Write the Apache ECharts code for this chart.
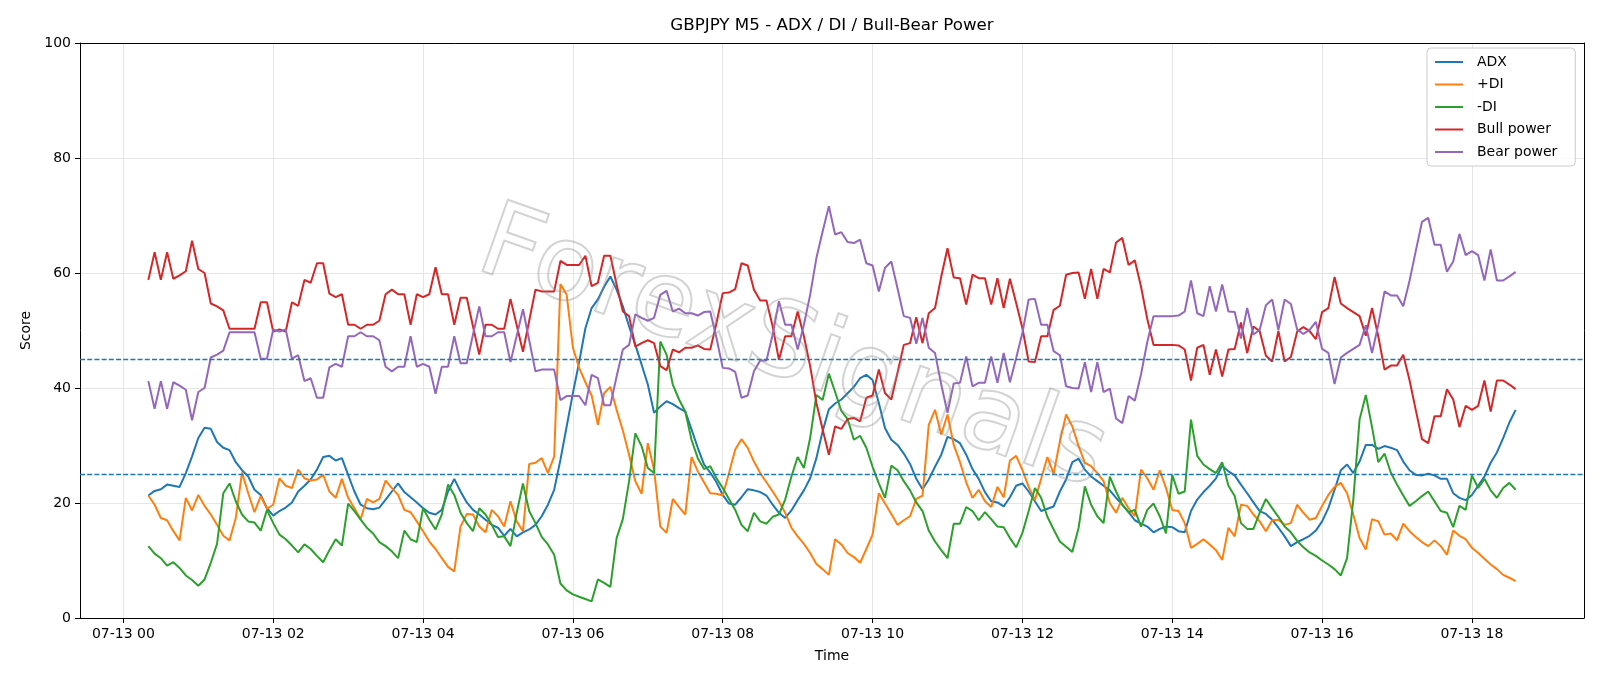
<!DOCTYPE html>
<html>
<head>
<meta charset="utf-8">
<script src="https://cdn.jsdelivr.net/npm/echarts@6/dist/echarts.min.js"></script>
<style>
html,body{margin:0;padding:0;background:#ffffff;}
#chart{width:1600px;height:686px;}
</style>
</head>
<body>
<div id="chart"></div>
<script>
// ---- data ----
const tickLabels = ['07-13 00','07-13 02','07-13 04','07-13 06','07-13 08','07-13 10','07-13 12','07-13 14','07-13 16','07-13 18'];
const tickMinutes = [0,120,240,360,480,600,720,840,960,1080];
const startMinute = 20;   // first bar 07-13 00:20
const stepMinutes = 5;    // M5
const thresholds = [45, 25];

const adx = [21.3,22.1,22.4,23.2,23.0,22.8,25.2,28.1,31.3,33.1,
32.9,30.6,29.6,29.2,27.1,25.7,24.6,22.3,21.4,19.1,
17.8,18.6,19.2,20.1,22.0,23.0,24.1,25.8,28.0,28.2,
27.4,27.8,24.9,22.0,19.7,19.1,18.9,19.2,20.6,22.0,
23.4,21.9,21.0,20.1,19.1,18.3,18.0,18.8,22.0,24.2,
22.0,20.1,18.8,18.0,17.1,16.2,15.7,14.3,15.5,14.2,
14.9,15.4,16.2,17.7,19.7,22.3,27.5,33.3,39.1,44.5,
50.4,53.9,55.4,57.6,59.4,57.1,54.2,50.7,47.5,44.1,
40.6,35.7,36.8,37.7,37.2,36.5,35.9,32.8,29.6,26.7,
25.3,23.6,21.4,19.9,19.7,21.0,22.4,22.2,21.9,21.3,
19.7,18.3,17.4,18.7,20.5,22.2,24.3,27.8,32.5,36.3,
37.3,38.0,39.1,40.2,41.7,42.3,41.4,37.4,33.0,31.0,
30.1,28.6,26.8,24.2,22.4,24.1,26.3,28.4,31.5,31.1,
30.4,28.4,25.9,24.2,21.9,20.3,20.1,19.4,21.0,23.0,
23.4,22.0,20.3,18.6,19.0,19.4,22.0,24.1,27.1,27.7,
25.8,24.6,23.8,23.0,22.2,20.9,19.7,18.4,17.0,16.4,
15.9,14.9,15.5,15.9,15.8,15.1,14.9,18.6,20.6,21.9,
23.0,24.3,26.5,25.5,24.8,23.2,21.7,20.1,18.6,18.1,
17.1,15.7,14.2,12.5,13.2,13.7,14.3,15.2,16.8,19.1,
22.3,25.7,26.7,25.2,27.2,30.1,30.1,29.4,29.9,29.6,
29.2,27.2,25.7,24.9,24.8,25.1,24.8,24.2,24.2,21.7,
20.9,20.5,21.4,23.0,24.6,27.0,28.8,31.3,34.0,36.2];

const plusDI = [21.3,19.7,17.4,17.0,15.1,13.5,20.9,18.7,21.4,19.5,
18.0,16.2,14.3,13.5,17.4,25.3,21.7,18.4,21.2,19.0,
19.7,24.3,23.0,22.6,25.8,24.3,23.9,24.1,24.9,22.0,
20.9,24.2,20.9,19.1,17.2,20.7,20.1,20.7,23.9,22.6,
21.4,18.8,18.4,16.8,15.1,13.3,12.0,10.4,8.9,8.1,
15.9,18.1,18.0,15.9,14.9,18.8,17.7,15.9,20.3,16.8,
15.1,26.8,27.0,27.8,25.2,28.1,58.1,56.2,47.0,43.5,
41.0,38.7,33.6,39.1,40.2,36.2,32.6,28.4,23.8,21.6,
30.4,25.8,15.9,14.8,20.7,19.3,18.0,28.0,25.5,23.6,
21.7,21.6,21.3,25.2,29.3,31.1,29.6,27.2,25.2,23.6,
22.0,20.3,18.3,15.7,14.2,12.9,11.3,9.4,8.5,7.5,
13.7,12.8,11.3,10.6,9.6,12.0,14.5,21.7,19.9,18.1,
16.2,17.0,17.7,20.7,21.3,33.6,36.2,31.9,35.4,30.1,
27.1,23.6,20.9,22.3,20.3,19.3,22.8,21.0,27.4,28.2,
25.7,22.8,20.5,24.2,28.0,25.1,30.7,35.4,33.3,29.9,
27.0,26.4,25.2,23.8,20.0,18.3,20.9,19.1,17.7,25.8,
24.3,22.3,25.7,22.6,18.8,18.6,16.5,12.2,12.9,13.7,
12.8,11.8,10.1,15.7,14.2,19.7,19.5,18.0,16.8,15.1,
17.0,17.1,16.2,16.5,19.7,18.3,17.1,17.4,19.5,21.4,
22.8,23.5,21.7,18.0,13.9,11.9,17.2,16.8,14.5,14.7,
13.5,16.4,15.1,14.1,13.2,12.5,13.5,12.5,11.0,15.2,
14.3,13.7,12.2,11.3,10.3,9.3,8.5,7.5,7.0,6.4];

const minusDI = [12.5,11.2,10.4,9.1,9.7,8.7,7.4,6.6,5.6,6.7,
9.6,12.9,21.7,23.4,20.3,18.0,16.8,16.6,15.2,18.8,
16.5,14.5,13.7,12.6,11.4,12.8,12.0,10.8,9.7,11.8,
13.7,12.6,19.9,18.6,17.1,15.7,14.7,13.2,12.5,11.6,
10.4,15.2,13.7,13.2,19.1,17.1,15.4,18.0,23.2,21.4,
18.3,16.5,15.1,19.1,18.0,16.2,14.1,14.2,12.5,18.3,
23.4,18.6,16.5,14.1,12.8,11.0,6.0,4.8,4.1,3.7,
3.3,2.9,6.7,6.1,5.4,13.9,17.2,23.8,32.1,29.9,
26.1,25.2,48.1,45.8,40.6,38.0,35.9,31.0,27.8,25.9,
26.4,24.3,22.6,20.7,18.8,16.2,15.1,18.3,16.8,16.4,
17.6,18.0,20.6,24.6,28.0,26.1,31.3,38.8,37.9,42.5,
39.3,36.0,34.6,31.0,31.7,29.6,26.3,23.4,20.9,26.5,
25.7,23.8,22.2,20.1,18.6,15.2,13.3,11.8,10.4,16.4,
16.4,19.3,18.6,17.0,18.4,17.2,15.9,15.8,13.9,12.3,
14.8,18.6,22.6,20.9,17.6,15.4,13.3,12.4,11.5,15.7,
22.9,19.7,17.7,16.5,24.6,22.0,19.7,18.4,18.8,15.9,
18.8,19.9,17.7,14.7,24.9,21.6,22.0,34.5,28.2,26.7,
25.9,25.2,27.1,23.0,21.2,16.5,15.5,15.5,18.3,20.7,
19.1,17.6,15.9,14.9,13.4,12.3,11.4,10.8,10.0,9.3,
8.5,7.4,10.4,20.6,34.5,38.8,33.2,27.1,28.6,25.3,
23.2,21.3,19.5,20.3,21.2,22.0,20.3,18.6,18.3,15.8,
19.5,18.8,24.8,22.6,24.2,22.2,20.9,22.6,23.5,22.3];

const bullPower = [58.8,63.6,58.8,63.6,59.0,59.6,60.3,65.6,60.7,60.0,
54.7,54.2,53.5,50.3,50.3,50.3,50.3,50.3,54.9,54.9,
49.8,50.2,49.8,54.9,54.3,58.8,58.3,61.7,61.7,56.4,
55.8,56.3,51.0,51.0,50.3,51.0,51.0,51.7,56.3,57.1,
56.3,56.3,51.0,56.3,55.8,56.3,61.0,56.3,56.3,51.0,
55.7,55.7,50.7,45.8,51.0,51.0,50.3,50.3,55.5,50.9,
46.3,51.7,57.1,56.8,56.8,56.8,62.1,61.4,61.4,61.4,
63.0,57.7,58.3,63.0,63.0,58.0,53.3,52.5,47.2,47.8,
48.3,47.8,43.8,43.1,46.7,46.2,47.0,47.0,47.4,46.8,
46.7,51.3,56.5,56.6,57.2,61.7,61.3,57.1,55.2,55.2,
50.7,44.9,49.0,49.0,53.3,49.0,43.8,37.4,32.8,28.4,
33.3,32.9,34.6,34.8,34.2,38.3,38.7,43.2,39.1,38.0,
42.7,47.5,47.8,52.3,47.8,53.0,53.9,59.4,64.3,59.2,
59.1,54.5,59.7,59.1,59.1,54.5,59.1,53.9,59.0,54.8,
50.4,44.6,44.5,49.0,49.0,53.6,54.3,59.7,60.0,60.1,
55.5,60.7,55.5,60.7,60.1,65.3,66.1,61.4,62.2,57.6,
52.0,47.5,47.5,47.5,47.5,47.4,46.7,41.3,47.0,47.5,
42.3,46.7,42.0,46.7,46.8,51.4,46.1,50.7,49.9,45.6,
44.6,49.9,44.6,45.4,49.8,50.6,49.9,48.5,53.2,53.9,
59.3,54.7,53.9,53.2,52.5,49.1,53.9,49.0,43.2,43.9,
43.9,45.8,41.4,36.2,31.1,30.4,35.1,35.1,39.8,38.0,
33.2,36.9,36.2,36.9,41.3,35.9,41.3,41.3,40.6,39.8];

const bearPower = [41.2,36.4,41.2,36.4,41.0,40.4,39.7,34.4,39.3,40.0,
45.3,45.8,46.5,49.7,49.7,49.7,49.7,49.7,45.1,45.1,
50.2,49.8,50.2,45.1,45.7,41.2,41.7,38.3,38.3,43.6,
44.2,43.7,49.0,49.0,49.7,49.0,49.0,48.3,43.7,42.9,
43.7,43.7,49.0,43.7,44.2,43.7,39.0,43.7,43.7,49.0,
44.3,44.3,49.3,54.2,49.0,49.0,49.7,49.7,44.5,49.1,
53.7,48.3,42.9,43.2,43.2,43.2,37.9,38.6,38.6,38.6,
37.0,42.3,41.7,37.0,37.0,42.0,46.7,47.5,52.8,52.2,
51.7,52.2,56.2,56.9,53.3,53.8,53.0,53.0,52.6,53.2,
53.3,48.7,43.5,43.4,42.8,38.3,38.7,42.9,44.8,44.8,
49.3,55.1,51.0,51.0,46.7,51.0,56.2,62.6,67.2,71.6,
66.7,67.1,65.4,65.2,65.8,61.7,61.3,56.8,60.9,62.0,
57.3,52.5,52.2,47.7,52.2,47.0,46.1,40.6,35.7,40.8,
40.9,45.5,40.3,40.9,40.9,45.5,40.9,46.1,41.0,45.2,
49.6,55.4,55.5,51.0,51.0,46.4,45.7,40.3,40.0,39.9,
44.5,39.3,44.5,39.3,39.9,34.7,33.9,38.6,37.8,42.4,
48.0,52.5,52.5,52.5,52.5,52.6,53.3,58.7,53.0,52.5,
57.7,53.3,58.0,53.3,53.2,48.6,53.9,49.3,50.1,54.4,
55.4,50.1,55.4,54.6,50.2,49.4,50.1,51.5,46.8,46.1,
40.7,45.3,46.1,46.8,47.5,50.9,46.1,51.0,56.8,56.1,
56.1,54.2,58.6,63.8,68.9,69.6,64.9,64.9,60.2,62.0,
66.8,63.1,63.8,63.1,58.7,64.1,58.7,58.7,59.4,60.2];

// ---- build ----
const times = adx.map((_, i) => startMinute + i * stepMinutes);
const pair = arr => arr.map((v, i) => [times[i], v]);
const FONT = '"DejaVu Sans", "Liberation Sans", sans-serif';
const GRID_COLOR = '#e6e6e6';

const chart = echarts.init(document.getElementById('chart'), null, {renderer: 'canvas'});

function lineSeries(name, data, color) {
  return {
    name: name, type: 'line', data: pair(data), xAxisIndex: 0, yAxisIndex: 0,
    symbol: 'none', showSymbol: false, smooth: false, z: 3,
    lineStyle: {color: color, width: 2}, itemStyle: {color: color},
    emphasis: {disabled: true}, animation: false
  };
}

const series = [
  {
    name: '__grid', type: 'line', data: [], xAxisIndex: 0, yAxisIndex: 0, z: 0, silent: true,
    markLine: {
      silent: true, symbol: ['none', 'none'], label: {show: false}, animation: false, z: 0,
      lineStyle: {color: GRID_COLOR, width: 1, type: 'solid'},
      emphasis: {disabled: true},
      data: tickMinutes.map(m => ({xAxis: m}))
    }
  },
  lineSeries('ADX', adx, '#1f77b4'),
  lineSeries('+DI', plusDI, '#ff7f0e'),
  lineSeries('-DI', minusDI, '#2ca02c'),
  lineSeries('Bull power', bullPower, '#d62728'),
  lineSeries('Bear power', bearPower, '#9467bd')
];
series[5].markLine = {
  silent: true, symbol: ['none', 'none'], label: {show: false}, animation: false,
  lineStyle: {color: '#1f77b4', width: 1.4, type: [5, 2.2]},
  emphasis: {disabled: true},
  data: thresholds.map(t => ({yAxis: t}))
};

const option = {
  animation: false,
  backgroundColor: '#ffffff',
  title: {
    text: 'GBPJPY M5 - ADX / DI / Bull-Bear Power',
    left: 832, top: 17, textAlign: 'center', padding: 0,
    textStyle: {fontFamily: FONT, fontSize: 16.7, fontWeight: 'normal', color: '#000', lineHeight: 18}
  },
  legend: {
    data: ['ADX', '+DI', '-DI', 'Bull power', 'Bear power'],
    orient: 'vertical', left: 1427, top: 48,
    itemWidth: 28, itemHeight: 14, itemGap: 8.5,
    padding: [7, 18, 7, 7],
    itemStyle: {opacity: 0, borderWidth: 0},
    lineStyle: {width: 2},
    backgroundColor: 'rgba(255,255,255,0.85)', borderColor: '#cccccc', borderWidth: 1, borderRadius: 4,
    textStyle: {fontFamily: FONT, fontSize: 14, color: '#000', padding: [0, 0, 0, 9]},
    selectedMode: false
  },
  grid: {left: 80, top: 43, width: 1504, height: 575, containLabel: false},
  xAxis: [
    {
      type: 'value', min: -34.75, max: 1169.75, position: 'bottom',
      name: 'Time', nameLocation: 'middle', nameGap: 31,
      nameTextStyle: {fontFamily: FONT, fontSize: 14, color: '#000'},
      axisLine: {show: true, onZero: false, lineStyle: {color: '#000', width: 1}},
      axisTick: {show: true, inside: false, length: 5, customValues: tickMinutes, lineStyle: {color: '#000', width: 1}},
      axisLabel: {
        show: true, margin: 9, customValues: tickMinutes,
        fontFamily: FONT, fontSize: 14, color: '#000',
        formatter: v => { const k = tickMinutes.indexOf(v); return k >= 0 ? tickLabels[k] : ''; }
      },
      splitLine: {show: false}
    },
    {
      type: 'value', min: 0, max: 1, position: 'top', gridIndex: 0,
      axisLine: {show: true, onZero: false, lineStyle: {color: '#000', width: 1}},
      axisTick: {show: false}, axisLabel: {show: false}, splitLine: {show: false}
    }
  ],
  yAxis: [
    {
      type: 'value', min: 0, max: 100, interval: 20, position: 'left',
      name: 'Score', nameLocation: 'middle', nameGap: 47, nameRotate: 90,
      nameTextStyle: {fontFamily: FONT, fontSize: 14, color: '#000'},
      axisLine: {show: true, onZero: false, lineStyle: {color: '#000', width: 1}},
      axisTick: {show: true, inside: false, length: 5, lineStyle: {color: '#000', width: 1}},
      axisLabel: {show: true, margin: 9, fontFamily: FONT, fontSize: 14, color: '#000'},
      splitLine: {show: true, lineStyle: {color: GRID_COLOR, width: 1}}
    },
    {
      type: 'value', min: 0, max: 1, position: 'right', gridIndex: 0,
      axisLine: {show: true, onZero: false, lineStyle: {color: '#000', width: 1}},
      axisTick: {show: false}, axisLabel: {show: false}, splitLine: {show: false}
    }
  ],
  graphic: [
    {
      type: 'text', x: 792, y: 352, rotation: -0.34, z: 100, silent: true,
      style: {
        text: 'ForexSignals', font: 'normal 104px "DejaVu Sans"',
        fill: 'rgba(0,0,0,0)', stroke: 'rgba(140,140,140,0.38)', lineWidth: 2,
        align: 'center', verticalAlign: 'middle'
      }
    }
  ],
  series: series
};

chart.setOption(option);
</script>
</body>
</html>
